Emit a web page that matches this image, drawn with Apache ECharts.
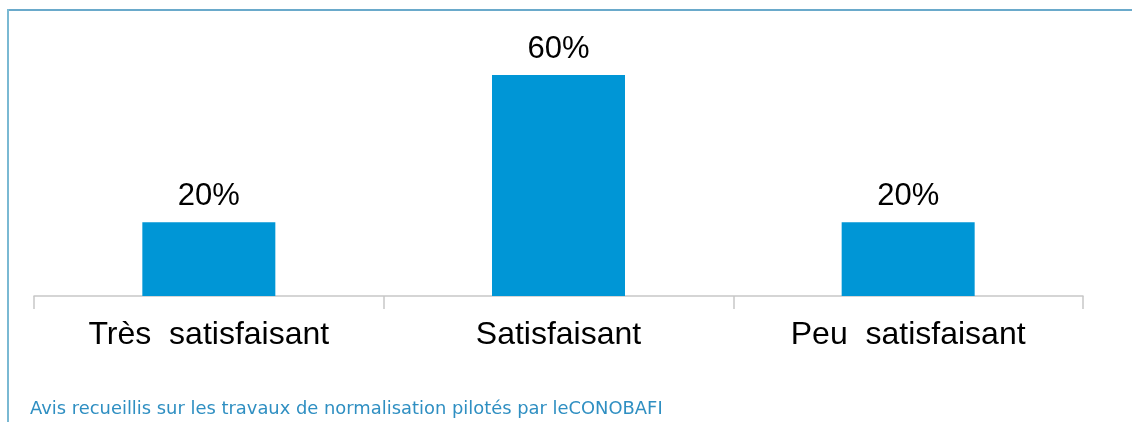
<!DOCTYPE html>
<html>
<head>
<meta charset="utf-8">
<script src="https://cdn.jsdelivr.net/npm/echarts@6/dist/echarts.min.js"></script>
<style>
  html, body { margin: 0; padding: 0; background: #fff; }
  #chart { width: 1132px; height: 422px; }
</style>
</head>
<body>
<div id="chart"></div>
<script>
const categories = ['Très  satisfaisant', 'Satisfaisant', 'Peu  satisfaisant']
const values = [20, 60, 20]
const footnote = 'Avis recueillis sur les travaux de normalisation pilotés par leCONOBAFI'

const chart = echarts.init(document.getElementById('chart'))

const option = {
  animation: false,
  grid: { left: 34, right: 49, top: 75, bottom: 126 },
  xAxis: {
    type: 'category',
    data: categories,
    axisLine: { lineStyle: { color: '#c8c8c8', width: 1.5 } },
    axisTick: { show: true, length: 13, lineStyle: { color: '#c8c8c8', width: 1.5 } },
    axisLabel: {
      color: '#000',
      fontFamily: 'Liberation Sans, Arial, sans-serif',
      fontSize: 32,
      margin: 23
    }
  },
  yAxis: {
    type: 'value',
    min: 0,
    max: 60,
    show: false,
    splitLine: { show: false }
  },
  series: [{
    type: 'bar',
    data: values,
    barWidth: 133,
    itemStyle: { color: '#0096d6' },
    label: {
      show: true,
      position: 'top',
      distance: 10,
      formatter: '{c}%',
      color: '#000',
      fontFamily: 'Liberation Sans, Arial, sans-serif',
      fontSize: 31
    }
  }],
  graphic: [
    { type: 'line', shape: { x1: 9, y1: 10, x2: 1132, y2: 10 }, style: { stroke: '#6aaacb', lineWidth: 2 } },
    { type: 'line', shape: { x1: 8, y1: 9, x2: 8, y2: 422 }, style: { stroke: '#7ab9d3', lineWidth: 2 } },
    {
      type: 'text',
      left: 30,
      top: 400,
      style: {
        text: footnote,
        fill: '#2f8fc2',
        font: '17.9px "DejaVu Sans", sans-serif'
      }
    }
  ]
}

chart.setOption(option)
</script>
</body>
</html>
